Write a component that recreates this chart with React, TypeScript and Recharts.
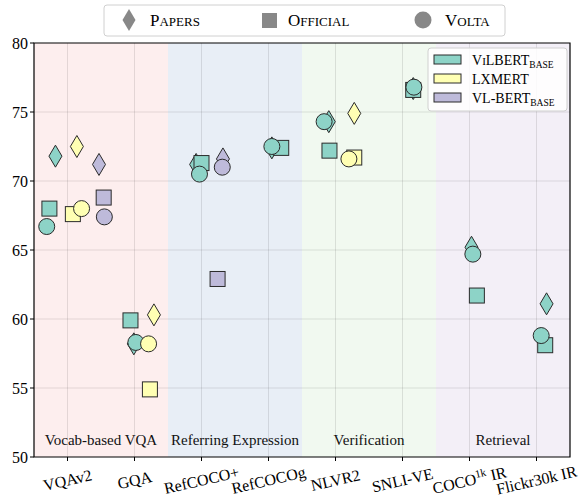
import React from "react";
import { ScatterChart, Scatter, XAxis, YAxis, ReferenceArea, ReferenceLine } from "recharts";

const FONT = "'Liberation Serif', 'DejaVu Serif', serif";

const categories = ["VQAv2", "GQA", "RefCOCO+", "RefCOCOg", "NLVR2", "SNLI-VE", "COCO1k IR", "Flickr30k IR"];
const xTicks = [0, 1, 2, 3, 4, 5, 6, 7];
const yTicks = [50, 55, 60, 65, 70, 75, 80];
const gridY = [55, 60, 65, 70, 75];

const bandNames = ["Vocab-based VQA", "Referring Expression", "Verification", "Retrieval"];
const bandColors = ["#fdeeee", "#e8eef6", "#f1f9f0", "#f3eff7"];

const modelColors = ["#8dd3c7", "#ffffb3", "#bebada"];

// scores per category (null = not reported) and the small x jitter inside a category
const vilbertPapers = [71.8, 58.2, 71.2, 72.4, 74.3, 76.7, 65.2, 61.1];
const vilbertPapersDx = [-0.18, -0.01, -0.08, 0.05, -0.1, 0.16, 0.03, 0.15];
const vilbertOfficial = [68.0, 59.9, 71.3, 72.4, 72.2, 76.6, 61.7, 58.1];
const vilbertOfficialDx = [-0.27, -0.06, 0.0, 0.19, -0.09, 0.16, 0.11, 0.13];
const vilbertVolta = [66.7, 58.3, 70.5, 72.5, 74.3, 76.8, 64.7, 58.8];
const vilbertVoltaDx = [-0.31, 0.02, -0.03, 0.05, -0.17, 0.17, 0.05, 0.07];

const lxmertPapers = [72.5, 60.3, null, null, 74.9, null, null, null];
const lxmertPapersDx = [0.14, 0.29, 0, 0, 0.28, 0, 0, 0];
const lxmertOfficial = [67.6, 54.9, null, null, 71.7, null, null, null];
const lxmertOfficialDx = [0.08, 0.23, 0, 0, 0.28, 0, 0, 0];
const lxmertVolta = [68.0, 58.2, null, null, 71.6, null, null, null];
const lxmertVoltaDx = [0.21, 0.21, 0, 0, 0.2, 0, 0, 0];

const vlbertPapers = [71.2, null, 71.6, null, null, null, null, null];
const vlbertPapersDx = [0.47, 0, 0.32, 0, 0, 0, 0, 0];
const vlbertOfficial = [68.8, null, 62.9, null, null, null, null, null];
const vlbertOfficialDx = [0.54, 0, 0.24, 0, 0, 0, 0, 0];
const vlbertVolta = [67.4, null, 71.0, null, null, null, null, null];
const vlbertVoltaDx = [0.55, 0, 0.31, 0, 0, 0, 0, 0];

const toPoints = (vals: (number | null)[], dx: number[]) =>
  vals
    .map((v, i) => (v == null ? null : { x: i + dx[i], y: v }))
    .filter((p) => p != null) as { x: number; y: number }[];

const EDGE = "#2a2a2a";

const Diamond = (p: any) => {
  const { cx, cy, fill } = p;
  if (cx == null || cy == null) return null;
  const w = 6.5;
  const h = 11;
  return (
    <polygon
      points={`${cx},${cy - h} ${cx + w},${cy} ${cx},${cy + h} ${cx - w},${cy}`}
      fill={fill}
      stroke={EDGE}
      strokeWidth={1}
    />
  );
};

const Square = (p: any) => {
  const { cx, cy, fill } = p;
  if (cx == null || cy == null) return null;
  return <rect x={cx - 7.5} y={cy - 7.5} width={15} height={15} fill={fill} stroke={EDGE} strokeWidth={1} />;
};

const Circle = (p: any) => {
  const { cx, cy, fill } = p;
  if (cx == null || cy == null) return null;
  return <circle cx={cx} cy={cy} r={8} fill={fill} stroke={EDGE} strokeWidth={1} />;
};

const series = [
  { data: toPoints(vilbertPapers, vilbertPapersDx), color: modelColors[0], shape: Diamond },
  { data: toPoints(lxmertPapers, lxmertPapersDx), color: modelColors[1], shape: Diamond },
  { data: toPoints(vlbertPapers, vlbertPapersDx), color: modelColors[2], shape: Diamond },
  { data: toPoints(vilbertOfficial, vilbertOfficialDx), color: modelColors[0], shape: Square },
  { data: toPoints(lxmertOfficial, lxmertOfficialDx), color: modelColors[1], shape: Square },
  { data: toPoints(vlbertOfficial, vlbertOfficialDx), color: modelColors[2], shape: Square },
  { data: toPoints(vilbertVolta, vilbertVoltaDx), color: modelColors[0], shape: Circle },
  { data: toPoints(lxmertVolta, lxmertVoltaDx), color: modelColors[1], shape: Circle },
  { data: toPoints(vlbertVolta, vlbertVoltaDx), color: modelColors[2], shape: Circle },
];

const XTick = (props: any) => {
  const { x, y, payload } = props;
  const name = categories[payload.value] ?? "";
  let content: React.ReactNode = name;
  if (name.startsWith("COCO1k")) {
    content = (
      <>
        COCO
        <tspan dy={-6} fontSize={11}>1k</tspan>
        <tspan dy={6}> IR</tspan>
      </>
    );
  }
  return (
    <g transform={`translate(${x},${y + 17})`}>
      <text
        transform="rotate(-13)"
        textAnchor="middle"
        dy="0.35em"
        fill="#000"
        fontSize={16}
        fontFamily={FONT}
        style={{ fontFamily: FONT }}
      >
        {content}
      </text>
    </g>
  );
};

const SmallCaps = ({ text, big = 17, small = 13 }: { text: string; big?: number; small?: number }) => (
  <>
    <tspan fontSize={big}>{text[0]}</tspan>
    <tspan fontSize={small}>{text.slice(1).toUpperCase()}</tspan>
  </>
);

const Legends = () => (
  <svg
    width={584}
    height={499}
    style={{ position: "absolute", left: 0, top: 0, pointerEvents: "none", fontFamily: FONT }}
  >
    {/* source legend */}
    <rect x={104} y={5} width={401} height={31} rx={3} fill="#fff" stroke="#d0d0d0" />
    <polygon points="129,9 135.5,20 129,31 122.5,20" fill="#888" />
    <text x={150} y={26} fill="#000">
      <SmallCaps text="Papers" />
    </text>
    <rect x={262} y={13} width={15} height={15} fill="#888" />
    <text x={288} y={26} fill="#000">
      <SmallCaps text="Official" />
    </text>
    <circle cx={423} cy={20} r={8.5} fill="#888" />
    <text x={445} y={26} fill="#000">
      <SmallCaps text="Volta" />
    </text>

    {/* model legend */}
    <rect x={428} y={48} width={139} height={63} rx={3} fill="#fff" fillOpacity={0.85} stroke="#d0d0d0" />
    {modelColors.map((c, i) => (
      <rect key={c} x={434} y={55 + i * 19} width={27} height={9} fill={c} stroke={EDGE} strokeWidth={1} />
    ))}
    <text x={472} y={65} fill="#000" fontSize={14}>
      V<tspan fontSize={11}>I</tspan>LBERT<tspan fontSize={9.5} dy={3}>BASE</tspan>
    </text>
    <text x={472} y={84} fill="#000" fontSize={14}>
      LXMERT
    </text>
    <text x={472} y={103} fill="#000" fontSize={14}>
      VL-BERT<tspan fontSize={9.5} dy={3}>BASE</tspan>
    </text>
  </svg>
);

export default function App() {
  return (
    <div style={{ position: "absolute", left: 0, top: 0, width: 584, height: 499, background: "#fff", fontFamily: FONT }}>
      <ScatterChart width={584} height={499} margin={{ top: 43, right: 14, bottom: 0, left: 0 }}>
        <XAxis
          type="number"
          dataKey="x"
          domain={[-0.5, 7.5]}
          ticks={xTicks}
          interval={0}
          allowDataOverflow
          axisLine={false}
          tickLine={{ stroke: "#000" }}
          tickSize={4}
          height={42}
          tick={<XTick />}
        />
        <YAxis
          type="number"
          dataKey="y"
          domain={[50, 80]}
          ticks={yTicks}
          interval={0}
          allowDataOverflow
          axisLine={false}
          tickLine={{ stroke: "#000" }}
          tickSize={4}
          tickMargin={2}
          width={34}
          tick={{ fill: "#000", fontSize: 16, fontFamily: FONT }}
        />
        {bandNames.map((name, i) => (
          <ReferenceArea
            key={name}
            x1={-0.5 + i * 2}
            x2={1.5 + i * 2}
            y1={50}
            y2={80}
            fill={bandColors[i]}
            fillOpacity={1}
            stroke="none"
            label={{ value: name, position: "insideBottom", offset: 12, fill: "#111", fontSize: 15, fontFamily: FONT }}
          />
        ))}
        {xTicks.map((t) => (
          <ReferenceLine key={`gx${t}`} x={t} stroke="#000" strokeOpacity={0.1} />
        ))}
        {gridY.map((t) => (
          <ReferenceLine key={`gy${t}`} y={t} stroke="#000" strokeOpacity={0.1} />
        ))}
        <ReferenceArea x1={-0.5} x2={7.5} y1={50} y2={80} fill="none" stroke="#000" strokeWidth={1.2} />
        {series.map((s, i) => (
          <Scatter key={i} data={s.data} fill={s.color} shape={s.shape} isAnimationActive={false} />
        ))}
      </ScatterChart>
      <Legends />
    </div>
  );
}
